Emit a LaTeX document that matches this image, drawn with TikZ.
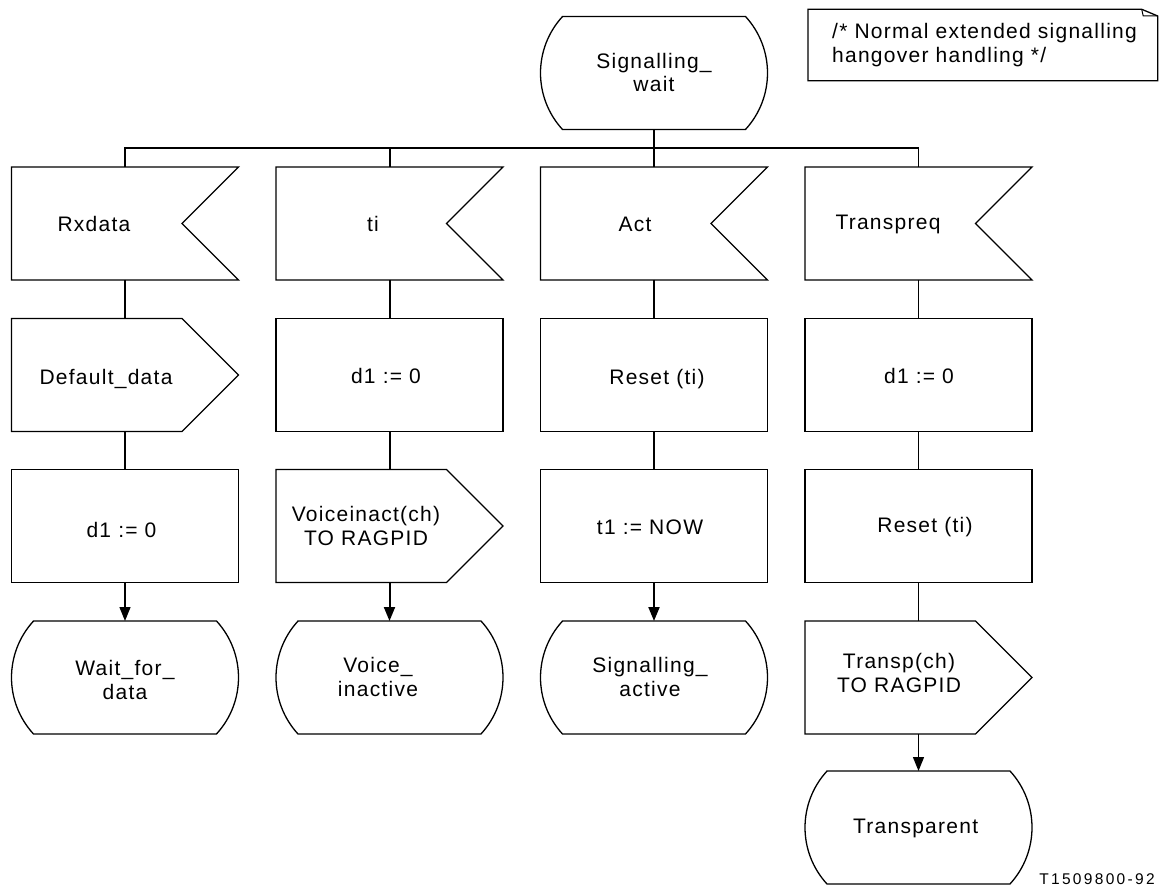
\documentclass[tikz,border=0pt]{standalone}
\usepackage{fontspec}
\setmainfont{Liberation Sans}[LetterSpace=6]
\newfontfamily\lblfont{Liberation Sans}[LetterSpace=15]
\usetikzlibrary{arrows.meta,calc}
\tikzset{
  shp/.style={inner sep=0pt, outer sep=0pt, minimum width=227pt, minimum height=113pt},
  outline/.style={line width=1.3pt, line join=miter},
  txt/.style={font=\fontsize{21}{24}\selectfont, align=center, inner sep=0pt},
  conn/.style={line width=1.3pt},
  bold conn/.style={line width=2pt},
  arr/.style={-{Triangle[length=14pt,width=11pt]}},
}
% SDL symbols: name, position
\newcommand\sdlInput[2]{%
  \node[shp] (#1) at (#2) {};
  \draw[outline] (#1.north west) -- (#1.north east) -- ([xshift=-56.5pt]#1.east)
     -- (#1.south east) -- (#1.south west) -- cycle;}
\newcommand\sdlOutput[2]{%
  \node[shp] (#1) at (#2) {};
  \draw[outline] (#1.north west) -- ([xshift=-56.5pt]#1.north east) -- (#1.east)
     -- ([xshift=-56.5pt]#1.south east) -- (#1.south west) -- cycle;}
\newcommand\sdlTask[2]{%
  \node[shp] (#1) at (#2) {};
  \draw[outline] (#1.north west) rectangle (#1.south east);}
\newcommand\sdlState[2]{%
  \node[shp] (#1) at (#2) {};
  \draw[outline] ([xshift=22pt]#1.north west) -- ([xshift=-22pt]#1.north east)
     arc[start angle=42.56, end angle=-42.56, radius=83.5pt]
     -- ([xshift=22pt]#1.south west)
     arc[start angle=222.56, end angle=137.44, radius=83.5pt] -- cycle;}
\begin{document}
\begin{tikzpicture}[x=1pt,y=1pt]
\useasboundingbox (0,0) rectangle (1159,887);
\fill[white] (0,0) rectangle (1159,887);

% top state
\sdlState{s0}{654,814}
\node[txt] (ts0) at (654,814.5) {Signalling\_\\wait};

% comment
\node[inner sep=0pt, outer sep=0pt, minimum width=349.7pt, minimum height=71.4pt] (cmtbox) at (982.85,842) {};
\draw[outline] (cmtbox.south west) -- (cmtbox.north west) -- ([xshift=-16pt]cmtbox.north east)
   -- ([yshift=-6.7pt]cmtbox.north east) -- (cmtbox.south east) -- cycle;
\draw[line width=1pt] ([xshift=-16pt]cmtbox.north east) -- ([xshift=-14.5pt,yshift=-6.7pt]cmtbox.north east)
   -- ([yshift=-6.7pt]cmtbox.north east);
\node[txt, align=left, anchor=west] (cmt) at (832,841.5) {/* Normal extended signalling\\hangover handling */};

% row 1: inputs
\sdlInput{in1}{125,663.5}
\sdlInput{in2}{389.5,663.5}
\sdlInput{in3}{654,663.5}
\sdlInput{in4}{918.5,663.5}
\node[txt] (tin1) at (94,663) {Rxdata};
\node[txt] (tin2) at (373,663) {ti};
\node[txt] (tin3) at (635,663) {Act};
\node[txt] (tin4) at (888,663) {Transpreq};

% column 1
\sdlOutput{out1}{125,512}
\node[txt] (tout1) at (106,508) {Default\_data};
\sdlTask{task1}{125,361}
\node[txt] (ttask1) at (121.5,357) {d1 := 0};
\sdlState{st1}{125,209.5}
\node[txt] (tst1) at (125,207) {Wait\_for\_\\data};

% column 2
\sdlTask{task2}{389.5,512}
\node[txt] (ttask2) at (386,511) {d1 := 0};
\sdlOutput{out2}{389.5,361}
\node[txt] (tout2) at (366,361.5) {Voiceinact(ch)\\TO RAGPID};
\sdlState{st2}{389.5,209.5}
\node[txt] (tst2) at (378,210) {Voice\_\\inactive};

% column 3
\sdlTask{task3a}{654,512}
\node[txt] (ttask3a) at (657,508) {Reset (ti)};
\sdlTask{task3b}{654,361}
\node[txt] (ttask3b) at (650,360) {t1 := NOW};
\sdlState{st3}{654,209.5}
\node[txt] (tst3) at (650,210) {Signalling\_\\active};

% column 4
\sdlTask{task4a}{918.5,512}
\node[txt] (ttask4a) at (919,511) {d1 := 0};
\sdlTask{task4b}{918.5,361}
\node[txt] (ttask4b) at (925,360) {Reset (ti)};
\sdlOutput{out4}{918.5,209.5}
\node[txt] (tout4) at (899,214) {Transp(ch)\\TO RAGPID};
\sdlState{st4}{918.5,59.5}
\node[txt] (tst4) at (915.6,59) {Transparent};

% label
\node[inner sep=0pt, font=\lblfont\fontsize{15.5}{18}\selectfont] (fig) at (1097,7.5) {T1509800-92};

% connectors
\coordinate (bus) at (654,739);
\draw[bold conn] (s0.south) -- (in3.north);
\draw[conn] (in1.north) |- (bus) -| (in4.north);
\draw[bold conn] (in2.north) -- (in2.north |- bus);

\draw[conn] (in1.south) -- (out1.north);
\draw[conn] (out1.south) -- (task1.north);
\draw[conn, arr] (task1.south) -- (st1.north);

\draw[bold conn] (in2.south) -- (task2.north);
\draw[bold conn] (task2.south) -- (out2.north);
\draw[bold conn, arr] (out2.south) -- (st2.north);

\draw[bold conn] (in3.south) -- (task3a.north);
\draw[bold conn] (task3a.south) -- (task3b.north);
\draw[bold conn, arr] (task3b.south) -- (st3.north);

\draw[conn] (in4.south) -- (task4a.north);
\draw[conn] (task4a.south) -- (task4b.north);
\draw[conn] (task4b.south) -- (out4.north);
\draw[conn, arr] (out4.south) -- (st4.north);
\end{tikzpicture}
\end{document}
